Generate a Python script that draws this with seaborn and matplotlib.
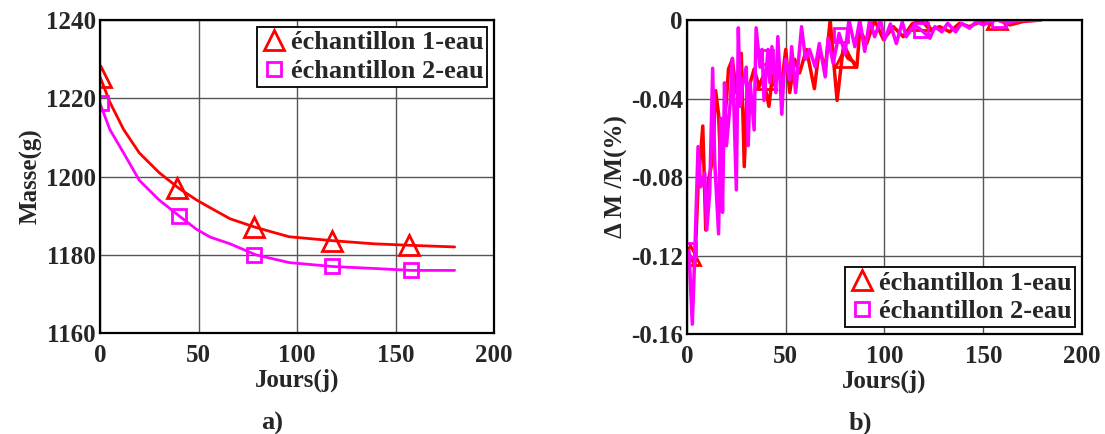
import numpy as np
import pandas as pd
import matplotlib
matplotlib.use("Agg")
import matplotlib.pyplot as plt
import seaborn as sns

# =========================================
# DONNEES - a) Masse
# =========================================

jours_masse = [0, 5, 12, 20, 30, 40, 49, 56, 66, 79, 96, 118, 139, 158, 180]
masse_1 = [1225.5, 1219, 1212, 1206, 1201, 1197, 1194, 1192, 1189.2, 1187,
           1184.6, 1183.6, 1182.8, 1182.4, 1182]
masse_2 = [1218.7, 1212, 1206, 1199, 1194, 1190, 1186.5, 1184.5, 1182.8, 1180,
           1178, 1177, 1176.5, 1176, 1176]

marq_jours_1 = [0.5, 39, 78, 118, 157]
marq_masse_1 = [1225.5, 1197, 1187, 1183.6, 1182.4]
marq_jours_2 = [0.5, 40, 78, 118, 158]
marq_masse_2 = [1218.7, 1190, 1180, 1177, 1176]

# =========================================
# DONNEES - b) Delta M / M
# =========================================

jours_b1 = [1.3, 4, 5.6, 8, 9.5, 11, 13, 14.5, 16, 17, 18, 20, 21, 23, 25, 27.5,
            29, 30.5, 32, 34, 36.5, 38.5, 41.5, 43, 45, 48, 50, 52, 54.5, 57,
            60.5, 64.5, 67, 70, 72.5, 74.5, 76, 79, 81.5, 84, 86, 87.5, 91, 95,
            99.5, 104.5, 109.5, 114, 118.5, 123, 128, 133, 138, 143, 148.5,
            152.5, 157, 163.5, 170, 179]
delta_b1 = [-0.1196, -0.125, -0.085, -0.054, -0.107, -0.081, -0.071, -0.036,
            -0.048, -0.073, -0.061, -0.041, -0.025, -0.020, -0.037, -0.017,
            -0.0747, -0.0356, -0.032, -0.025, -0.034, -0.029, -0.044, -0.0305,
            -0.025, -0.032, -0.015, -0.037, -0.020, -0.027, -0.015, -0.035,
            -0.0144, -0.025, 0.0, -0.024, -0.041, -0.015, -0.0195, -0.021,
            -0.024, -0.005, -0.012, 0.0, -0.010, -0.0034, -0.0085, -0.002,
            0.0, -0.005, -0.0034, -0.006, -0.0017, -0.0034, -0.0008, -0.0017,
            0.0005, -0.0025, -0.0008, 0.0]

jours_b2 = [1, 2.7, 4, 5.6, 7, 9, 10, 11.5, 13, 14, 16, 17, 18, 19, 20, 22, 23,
            25, 26, 27, 28, 30, 31, 32, 34, 35, 37, 38, 39, 41, 42, 43, 45, 46,
            48, 49, 50, 52, 53, 55, 58, 60, 62, 65, 67, 70, 71.5, 74, 77, 80,
            82, 85, 87.5, 90, 92.5, 95, 98, 100, 103, 106, 109, 111, 115,
            118.5, 120.5, 123, 125.5, 129, 132, 136, 139, 143, 146.5, 150,
            153.5, 157, 162, 167, 174, 179]
delta_b2 = [-0.1175, -0.155, -0.118, -0.0645, -0.085, -0.078, -0.107, -0.088,
            -0.0246, -0.0713, -0.109, -0.050, -0.098, -0.032, -0.064, -0.041,
            -0.0195, -0.0866, -0.004, -0.044, -0.034, -0.024, -0.064, -0.032,
            -0.056, -0.004, -0.024, -0.015, -0.041, -0.015, -0.032, -0.0136,
            -0.037, -0.0085, -0.048, -0.029, -0.020, -0.0305, -0.0136, -0.037,
            -0.0034, -0.020, -0.015, -0.024, -0.012, -0.029, -0.0093, -0.022,
            -0.0068, -0.017, 0.0, -0.0136, 0.0, -0.016, 0.0, -0.0085, 0.0,
            -0.010, -0.002, -0.012, -0.001, -0.0085, -0.0025, -0.005, -0.0068,
            -0.0093, -0.0034, -0.006, -0.0017, -0.006, -0.0017, -0.0042,
            -0.0008, -0.0025, -0.0008, 0.0, -0.0017, -0.0003, -0.0003, 0.0]

marq_jours_b1 = [1.3, 40, 80, 118.5, 157]
marq_delta_b1 = [-0.1196, -0.030, -0.019, 0.0, 0.0005]
marq_jours_b2 = [1, 40, 78, 118.5, 158]
marq_delta_b2 = [-0.117, -0.019, -0.0075, -0.005, 0.0]

labels = ["échantillon 1-eau", "échantillon 2-eau"]

# =========================================
# STYLE
# =========================================

sns.set_style("whitegrid")
plt.rcParams["font.family"] = ["Liberation Serif", "DejaVu Serif"]
plt.rcParams["font.weight"] = "bold"
plt.rcParams["axes.labelweight"] = "bold"

fig = plt.figure(figsize=(11.05, 4.34), dpi=100)
ax1 = fig.add_axes([0.0905, 0.2327, 0.3566, 0.7212])
ax2 = fig.add_axes([0.6217, 0.2304, 0.3575, 0.7235])

df_a = pd.DataFrame({"jours": jours_masse, "m1": masse_1, "m2": masse_2})
df_b1 = pd.DataFrame({"jours": jours_b1, "d": delta_b1})
df_b2 = pd.DataFrame({"jours": jours_b2, "d": delta_b2})

tri = dict(ls="none", marker="^", ms=14, mfc="none", mec="red", mew=2)
car = dict(ls="none", marker="s", ms=9.5, mfc="none", mec="magenta", mew=2)

# a)
sns.lineplot(data=df_a, x="jours", y="m1", color="red", lw=2, ax=ax1, legend=False)
ax1.plot(marq_jours_1, marq_masse_1, label=labels[0], **tri)
sns.lineplot(data=df_a, x="jours", y="m2", color="magenta", lw=2, ax=ax1, legend=False)
ax1.plot(marq_jours_2, marq_masse_2, label=labels[1], **car)

# b)
sns.lineplot(data=df_b1, x="jours", y="d", color="red", lw=2.5, ax=ax2, legend=False)
ax2.plot(marq_jours_b1, marq_delta_b1, label=labels[0], **tri)
sns.lineplot(data=df_b2, x="jours", y="d", color="magenta", lw=2.5, ax=ax2, legend=False)
ax2.plot(marq_jours_b2, marq_delta_b2, label=labels[1], **car)

for ax in (ax1, ax2):
    ax.set_xlim(0, 200)
    ax.set_xticks([0, 50, 100, 150, 200])
    ax.grid(True, color="#555555", lw=1)
    for s in ax.spines.values():
        s.set_color("black")
        s.set_linewidth(1.6)
    ax.tick_params(labelsize=18, length=0)
    ax.tick_params(axis="x", pad=8)
    ax.tick_params(axis="y", pad=3)
    ax.set_xlabel("Jours(j)", fontsize=18, labelpad=1)

ax1.set_ylim(1160, 1240)
ax1.set_yticks([1160, 1180, 1200, 1220, 1240])
ax1.set_ylabel("Masse(g)", fontsize=18, labelpad=2)

ax2.set_ylim(-0.16, 0)
ax2.set_yticks([-0.16, -0.12, -0.08, -0.04, 0])
ax2.set_yticklabels(["-0.16", "-0.12", "-0.08", "-0.04", "0"])
ax2.set_ylabel("Δ M /M(%)", fontsize=18, labelpad=2)

leg_kw = dict(fontsize=19, frameon=True, fancybox=False, edgecolor="black",
              framealpha=1, handletextpad=0.15, borderpad=0.15, labelspacing=0.2,
              handlelength=1.0, borderaxespad=0.25, markerscale=1.0)
l1 = ax1.legend(loc="upper right", **leg_kw)
l2 = ax2.legend(loc="lower right", **leg_kw)
for l in (l1, l2):
    l.get_frame().set_linewidth(1.3)
    for t in l.get_texts():
        t.set_fontweight("bold")

fig.text(0.246, 0.01, "a)", fontsize=19, fontweight="bold", ha="center")
fig.text(0.779, 0.01, "b)", fontsize=19, fontweight="bold", ha="center")

fig.savefig("out.png", dpi=100)
